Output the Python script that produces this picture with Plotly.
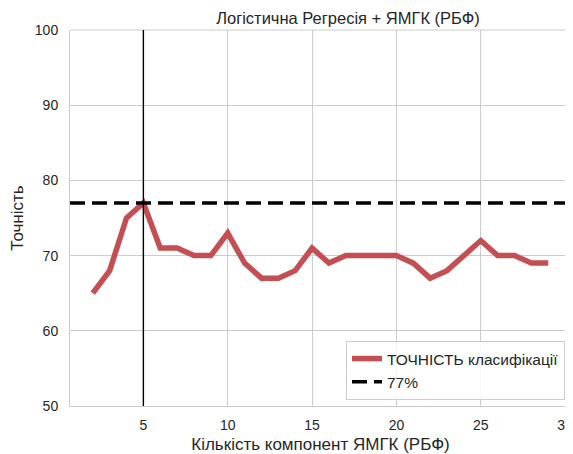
import plotly.graph_objects as go

components = list(range(2, 30))
accuracy = [65, 68, 75, 77, 71, 71, 70, 70, 73, 69, 67, 67, 68, 71, 69, 70, 70, 70, 70, 69, 67, 68, 70, 72, 70, 70, 69, 69]
threshold = 77
best_k = 5
x_ticks = [5, 10, 15, 20, 25, 30]
y_ticks = [50, 60, 70, 80, 90, 100]

title = "Логістична Регресія + ЯМГК (РБФ)"
x_label = "Кількість компонент ЯМГК (РБФ)"
y_label = "Точність"
series_name = "ТОЧНІСТЬ класифікації"
thr_name = f"{threshold}%"

x_range = [0.65, 30.35]
y_range = [50, 100]

font_family = "Liberation Sans, Arial, sans-serif"
text_color = "#262626"
grid_color = "#cccccc"

W, H = 565, 446  # page body has an 8px margin
ML, MT, MB = 62, 22, 48

fig = go.Figure()
fig.add_trace(go.Scatter(
    x=components, y=accuracy, mode="lines", name=series_name,
    line=dict(color="#c44e52", width=5.5),
))
fig.add_trace(go.Scatter(
    x=x_range, y=[threshold, threshold], mode="lines", name=thr_name,
    line=dict(color="black", width=3.5, dash="15px,7px"),
))
fig.add_shape(type="line", xref="x", yref="y domain", x0=best_k, x1=best_k, y0=0, y1=1,
              line=dict(color="black", width=1.4), layer="above")

fig.update_layout(
    width=W, height=H,
    margin=dict(l=ML, r=0, t=MT, b=MB, pad=0),
    paper_bgcolor="white", plot_bgcolor="white",
    font=dict(family=font_family, size=14, color=text_color),
    title=dict(text=title, x=(ML + W) / 2 / W, xanchor="center", y=1 - 10 / H, yanchor="middle",
               xref="paper",
               font=dict(family=font_family, size=16.5, color=text_color)),
    showlegend=True,
    legend=dict(
        x=0.988, y=0.016, xanchor="right", yanchor="bottom",
        bgcolor="rgba(255,255,255,0.85)", bordercolor=grid_color, borderwidth=1,
        font=dict(size=15.5, color=text_color), tracegroupgap=0,
        itemwidth=30,
    ),
)
fig.update_xaxes(
    range=x_range, tickvals=x_ticks, showgrid=True, gridcolor=grid_color, gridwidth=1,
    zeroline=False, showline=True, linecolor=grid_color, linewidth=1, mirror=False,
    ticks="", ticklabelstandoff=6, ticklabeloverflow="allow",
    tickfont=dict(size=14, color=text_color),
    title=dict(text=x_label, font=dict(size=17, color=text_color), standoff=6),
)
fig.update_yaxes(
    range=y_range, tickvals=y_ticks, showgrid=True, gridcolor=grid_color, gridwidth=1,
    zeroline=False, showline=True, linecolor=grid_color, linewidth=1,
    ticks="", ticklabelstandoff=8, tickfont=dict(size=14, color=text_color),
    title=dict(text=y_label, font=dict(size=17, color=text_color), standoff=12),
)
fig.add_shape(type="line", xref="paper", yref="paper", x0=0, x1=1, y0=1, y1=1,
              line=dict(color=grid_color, width=1), layer="below")

fig.write_html("out.html")
